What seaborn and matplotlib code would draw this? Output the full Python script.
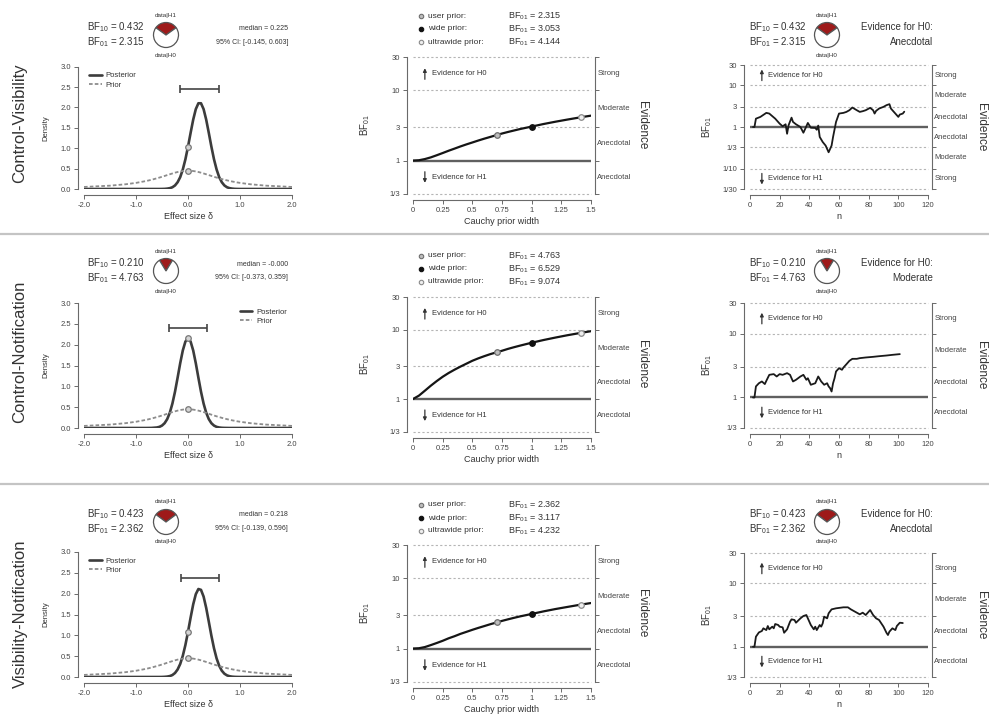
import matplotlib
matplotlib.use("Agg")
import matplotlib.pyplot as plt
from matplotlib.lines import Line2D
from matplotlib.ticker import NullLocator
from matplotlib.transforms import offset_copy, blended_transform_factory
import pandas as pd
import seaborn as sns

# ---------------- data ----------------
row_names = ["Control-Visibility", "Control-Notification", "Visibility-Notification"]
bf10 = ["0.432", "0.210", "0.423"]
bf01 = ["2.315", "4.763", "2.362"]
pie_h1 = [0.302, 0.174, 0.297]
post_median = ["0.225", "-0.000", "0.218"]
ci_text = ["[-0.145, 0.603]", "[-0.373, 0.359]", "[-0.139, 0.596]"]
ci_low = [-0.145, -0.373, -0.139]
ci_high = [0.603, 0.359, 0.596]
ci_height = [2.45, 2.39, 2.37]
evidence_cat = ["Anecdotal", "Moderate", "Anecdotal"]

# prior / posterior densities
delta = [-2.0, -1.5, -1.2, -1.0, -0.8, -0.7, -0.6, -0.55, -0.5, -0.45, -0.4, -0.35,
         -0.3, -0.25, -0.2, -0.15, -0.1, -0.05, 0.0, 0.05, 0.1, 0.15, 0.2, 0.25,
         0.3, 0.35, 0.4, 0.45, 0.5, 0.55, 0.6, 0.65, 0.7, 0.75, 0.8, 0.85, 0.9,
         0.95, 1.0, 1.2, 1.5, 2.0]
prior_dens = [0.050, 0.082, 0.116, 0.150, 0.197, 0.227, 0.262, 0.280, 0.300, 0.320,
              0.341, 0.361, 0.381, 0.400, 0.417, 0.431, 0.441, 0.448, 0.450, 0.448,
              0.441, 0.431, 0.417, 0.400, 0.381, 0.361, 0.341, 0.320, 0.300, 0.280,
              0.262, 0.244, 0.227, 0.212, 0.197, 0.184, 0.172, 0.160, 0.150, 0.116,
              0.082, 0.050]
post_dens_1 = [0, 0, 0, 0, 0, 0, 0.000, 0.000, 0.001, 0.003, 0.009, 0.020, 0.043,
               0.087, 0.166, 0.290, 0.478, 0.728, 1.037, 1.376, 1.701, 1.959, 2.103,
               2.103, 1.959, 1.701, 1.376, 1.037, 0.728, 0.478, 0.290, 0.166, 0.087,
               0.043, 0.020, 0.009, 0.003, 0.001, 0.000, 0, 0, 0]
post_dens_2 = [0, 0, 0, 0, 0, 0.002, 0.012, 0.027, 0.058, 0.115, 0.213, 0.366, 0.586,
               0.871, 1.206, 1.554, 1.861, 2.074, 2.150, 2.074, 1.861, 1.554, 1.206,
               0.871, 0.586, 0.366, 0.213, 0.115, 0.058, 0.027, 0.012, 0.005, 0.002,
               0.001, 0, 0, 0, 0, 0, 0, 0, 0]
post_dens_3 = [0, 0, 0, 0, 0, 0, 0.000, 0.000, 0.001, 0.004, 0.010, 0.022, 0.047,
               0.096, 0.180, 0.312, 0.508, 0.768, 1.083, 1.424, 1.743, 1.987, 2.112,
               2.091, 1.930, 1.658, 1.327, 0.990, 0.689, 0.446, 0.269, 0.151, 0.079,
               0.039, 0.018, 0.008, 0.003, 0.001, 0.000, 0, 0, 0]
post_at_0 = [1.04, 2.15, 1.08]
prior_at_0 = [0.45, 0.45, 0.45]

# robustness check
prior_width = [0, 0.05, 0.1, 0.15, 0.2, 0.25, 0.3, 0.35, 0.4, 0.45, 0.5, 0.55, 0.6,
               0.65, 0.707, 0.75, 0.8, 0.85, 0.9, 0.95, 1.0, 1.1, 1.2, 1.3, 1.414, 1.5]
robust_1 = [1.00, 1.01, 1.05, 1.11, 1.19, 1.28, 1.38, 1.48, 1.59, 1.70, 1.81, 1.93,
            2.05, 2.17, 2.315, 2.43, 2.556, 2.68, 2.81, 2.93, 3.053, 3.32, 3.58,
            3.84, 4.144, 4.37]
robust_2 = [1.00, 1.12, 1.32, 1.56, 1.82, 2.10, 2.38, 2.66, 2.95, 3.25, 3.58, 3.88,
            4.17, 4.46, 4.763, 5.00, 5.32, 5.62, 5.92, 6.22, 6.529, 7.15, 7.76, 8.38,
            9.074, 9.60]
robust_3 = [1.00, 1.01, 1.05, 1.12, 1.20, 1.29, 1.40, 1.50, 1.62, 1.73, 1.85, 1.97,
            2.09, 2.22, 2.362, 2.48, 2.61, 2.74, 2.87, 2.99, 3.117, 3.39, 3.66, 3.92,
            4.232, 4.46]
marked_width = [0.707, 1.0, 1.414]
marked_names = ["user prior:", "wide prior:", "ultrawide prior:"]
user_bf = [2.315, 4.763, 2.362]
wide_bf = [3.053, 6.529, 3.117]
ultra_bf = [4.144, 9.074, 4.232]
user_txt = ["2.315", "4.763", "2.362"]
wide_txt = ["3.053", "6.529", "3.117"]
ultra_txt = ["4.144", "9.074", "4.232"]

# sequential analysis
seq_n_1 = [2, 3, 4, 7, 11, 13, 17, 20, 22, 24, 25, 26, 28, 29, 31, 34, 36, 38, 39, 41,
           44, 45, 46, 47, 49, 51, 53, 55, 56, 58, 60, 63, 65, 67, 69, 72, 74, 76, 78,
           81, 83, 84, 85, 87, 90, 92, 94, 95, 97, 100, 101, 103, 104]
seq_bf_1 = [1.00, 1.00, 1.58, 1.74, 2.17, 2.09, 1.58, 1.20, 1.04, 1.16, 0.69, 1.10,
            1.67, 1.32, 1.16, 1.00, 0.73, 1.04, 1.25, 0.96, 0.95, 0.86, 1.08, 0.58,
            0.44, 0.36, 0.25, 0.36, 0.58, 1.32, 2.09, 2.17, 2.29, 2.51, 2.91, 2.51,
            2.29, 2.38, 2.51, 2.86, 2.51, 2.09, 2.42, 2.75, 3.02, 3.31, 3.50, 2.75,
            2.29, 1.74, 1.98, 2.09, 2.315]
seq_n_2 = [2, 3, 4, 6, 8, 10, 11, 13, 16, 18, 20, 22, 25, 27, 28, 29, 31, 34, 36, 38,
           39, 41, 44, 46, 48, 50, 52, 53, 54, 55, 56, 57, 58, 60, 62, 63, 65, 67, 69,
           72, 74, 78, 83, 87, 92, 96, 101]
seq_bf_2 = [1.00, 1.00, 1.49, 1.67, 1.78, 1.62, 1.82, 2.26, 2.32, 2.13, 2.32, 2.26,
            2.40, 2.26, 2.00, 1.78, 1.89, 2.13, 2.26, 1.89, 2.00, 1.58, 1.67, 2.13,
            1.78, 1.58, 1.67, 1.49, 1.40, 1.24, 1.67, 2.00, 2.55, 2.87, 2.71, 2.94,
            3.31, 3.74, 4.02, 4.02, 4.12, 4.22, 4.32, 4.42, 4.53, 4.64, 4.763]
seq_n_3 = [2, 3, 4, 6, 8, 9, 11, 12, 13, 15, 16, 17, 19, 20, 22, 23, 25, 27, 28, 30,
           31, 34, 36, 38, 39, 41, 43, 44, 45, 47, 48, 49, 50, 52, 53, 55, 58, 63, 66,
           68, 72, 74, 76, 78, 81, 83, 85, 87, 90, 92, 93, 94, 96, 98, 99, 101, 103]
seq_bf_3 = [1.00, 1.00, 1.44, 1.68, 1.77, 1.95, 1.83, 2.12, 1.88, 2.07, 1.95, 2.28,
            2.20, 2.07, 2.02, 1.66, 1.88, 2.48, 2.70, 2.64, 2.39, 2.80, 3.05, 3.16,
            2.80, 2.20, 1.88, 2.07, 1.83, 2.20, 2.07, 2.33, 2.98, 2.80, 3.36, 3.88,
            4.03, 4.18, 4.18, 3.88, 3.44, 3.24, 3.44, 3.16, 3.79, 3.16, 2.80, 2.64,
            2.07, 1.66, 1.53, 1.73, 1.95, 1.83, 2.12, 2.39, 2.362]

post_dens = [post_dens_1, post_dens_2, post_dens_3]
robust = [robust_1, robust_2, robust_3]
seq_n = [seq_n_1, seq_n_2, seq_n_3]
seq_bf = [seq_bf_1, seq_bf_2, seq_bf_3]

# ---------------- layout (pixels) ----------------
W, H = 989, 719
dens_y = [(66.7, 189), (303, 428), (552, 677)]
rob_y = [(57, 194), (297, 432), (545, 682)]
seq_y = [(65, 189), (303, 428), (553, 677)]
hdr_c = [35, 271, 522]
hdr2_y = [16, 256, 505]
label_y = [123, 352, 614]
legend_loc = ["upper left", "upper right", "upper left"]
seq_lo = [1 / 30, 1 / 3, 1 / 3]

TXT = "#333333"
AX = "#6a6a6a"
RED = "#9e1a1a"

sns.set_theme(style="ticks")
plt.rcParams["font.family"] = ["Liberation Sans", "DejaVu Sans"]
plt.rcParams["mathtext.fontset"] = "custom"
plt.rcParams["mathtext.rm"] = "Liberation Sans"
plt.rcParams["mathtext.it"] = "Liberation Sans:italic"
plt.rcParams["mathtext.default"] = "rm"
plt.rcParams["axes.unicode_minus"] = False

fig = plt.figure(figsize=(W / 100, H / 100), dpi=100)


def fx(x):
    return x / W


def fy(y):
    return 1 - y / H


def px_axes(x0, x1, y0, y1):
    return fig.add_axes([fx(x0), fy(y1), (x1 - x0) / W, (y1 - y0) / H])


def style(ax, right=False):
    ax.set_facecolor("none")
    ax.grid(False)
    ax.spines["top"].set_visible(False)
    ax.spines["right"].set_visible(right)
    for s in ["left", "bottom"]:
        ax.spines[s].set_position(("outward", 4.5))
    sides = ["left", "bottom"] + (["right"] if right else [])
    for s in sides:
        ax.spines[s].set_color(AX)
        ax.spines[s].set_linewidth(0.8)
    if right:
        ax.spines["right"].set_position(("outward", 3))
        ax.tick_params(axis="y", right=True, labelright=False)
    ax.tick_params(length=3, width=0.7, color=AX, labelsize=5.5, labelcolor="#444444", pad=2)


def pie(cx, cy, p):
    r = 12.5 * 1.25
    pax = px_axes(cx - r, cx + r, cy - r, cy + r)
    pax.pie([p, 1 - p], colors=[RED, "white"], startangle=90 - 180 * p,
            wedgeprops=dict(edgecolor="#555555", linewidth=0.9))
    pax.set_aspect("equal")
    fig.text(fx(cx), fy(cy - 20), "data|H1", fontsize=4.5, color=TXT, ha="center", va="center")
    fig.text(fx(cx), fy(cy + 20), "data|H0", fontsize=4.5, color=TXT, ha="center", va="center")


def evidence_decor(ax, ticks, labels, bands, xarrow, xtext, h1_y, h1_tip):
    ax.set_yscale("log")
    ax.set_yticks(ticks)
    ax.set_yticklabels(labels)
    ax.yaxis.set_minor_locator(NullLocator())
    for t in ticks:
        if t != 1:
            ax.axhline(t, color="#b5b5b5", lw=0.8, ls=(0, (2, 2)), clip_on=False, zorder=0)
    ax.axhline(1, color="#606060", lw=1.7, zorder=1)
    tr = blended_transform_factory(ax.transAxes, ax.transData)
    for lab, yv in bands:
        ax.text(1.035, yv, lab, transform=tr, fontsize=5.5, color="#444444", va="center", ha="left")
    ax.text(xtext, 17.3, "Evidence for H0", fontsize=5.5, color=TXT, va="center")
    ax.text(xtext, h1_y, "Evidence for H1", fontsize=5.5, color=TXT, va="center")
    up = offset_copy(ax.transData, fig=fig, x=0, y=6, units="points")
    ax.annotate("", xy=(xarrow, 17.3), xycoords=up, xytext=(0, -12), textcoords="offset points",
                arrowprops=dict(arrowstyle="-|>", color="#333333", lw=0.9, mutation_scale=5))
    dn = offset_copy(ax.transData, fig=fig, x=0, y=-6, units="points")
    ax.annotate("", xy=(xarrow, h1_y), xycoords=dn, xytext=(0, 12), textcoords="offset points",
                arrowprops=dict(arrowstyle="-|>", color="#333333", lw=0.9, mutation_scale=5))


for i in range(3):
    # ---------- prior and posterior ----------
    y0, y1 = dens_y[i]
    ax = px_axes(84, 292, y0, y1)
    df = pd.DataFrame({"delta": delta, "Posterior": post_dens[i], "Prior": prior_dens})
    sns.lineplot(data=df, x="delta", y="Posterior", ax=ax, color="#3c3c3c", lw=1.9,
                 label="Posterior")
    sns.lineplot(data=df, x="delta", y="Prior", ax=ax, color="#8c8c8c", lw=1.3,
                 linestyle=(0, (2, 1.2)), label="Prior")
    ax.errorbar(x=(ci_low[i] + ci_high[i]) / 2, y=ci_height[i], xerr=(ci_high[i] - ci_low[i]) / 2,
                fmt="none", ecolor="#444444", elinewidth=1.2, capsize=3.2, capthick=1.2)
    sns.scatterplot(x=[0, 0], y=[post_at_0[i], prior_at_0[i]], ax=ax, s=16, color="#d4d4d4",
                    edgecolor="#777777", linewidth=0.9, zorder=5)
    ax.set_xlim(-2, 2)
    ax.set_ylim(0, 3)
    ax.set_xticks([-2, -1, 0, 1, 2])
    ax.set_xticklabels(["-2.0", "-1.0", "0.0", "1.0", "2.0"])
    ax.set_yticks([0, 0.5, 1, 1.5, 2, 2.5, 3])
    ax.set_yticklabels(["0.0", "0.5", "1.0", "1.5", "2.0", "2.5", "3.0"])
    style(ax)
    ax.set_xlabel("Effect size \u03b4", fontsize=6.5, color=TXT, labelpad=2)
    ax.set_ylabel("Density", fontsize=5.5, color=TXT)
    ax.yaxis.set_label_coords(-0.165, 0.5)
    ax.legend(loc=legend_loc[i], frameon=False, fontsize=5.5, handlelength=1.6,
              labelspacing=0.25, borderaxespad=0.3, handletextpad=0.5, labelcolor=TXT)

    hc = hdr_c[i]
    fig.text(fx(87), fy(hc - 8), r"BF$_{10}$ = " + bf10[i], fontsize=7, color=TXT, va="center")
    fig.text(fx(87), fy(hc + 7), r"BF$_{01}$ = " + bf01[i], fontsize=7, color=TXT, va="center")
    pie(166, hc, pie_h1[i])
    fig.text(fx(288), fy(hc - 7), "median = " + post_median[i], fontsize=5, color=TXT,
             ha="right", va="center")
    fig.text(fx(288), fy(hc + 7), "95% CI: " + ci_text[i], fontsize=5, color=TXT,
             ha="right", va="center")

    fig.text(fx(20), fy(label_y[i]), row_names[i], rotation=90, fontsize=12, color=TXT,
             ha="center", va="center")

    # ---------- robustness check ----------
    y0, y1 = rob_y[i]
    ax = px_axes(413, 591, y0, y1)
    sns.lineplot(x=prior_width, y=robust[i], ax=ax, color="#151515", lw=1.6, zorder=3)
    marks = [user_bf[i], wide_bf[i], ultra_bf[i]]
    fills = ["#bdbdbd", "#111111", "#eeeeee"]
    edges = ["#6e6e6e", "#111111", "#8a8a8a"]
    for k in range(3):
        sns.scatterplot(x=[marked_width[k]], y=[marks[k]], ax=ax, s=16, color=fills[k],
                        edgecolor=edges[k], linewidth=0.9, zorder=5)
    ax.set_xlim(0, 1.5)
    ax.set_ylim(1 / 3, 30)
    evidence_decor(ax, [30, 10, 3, 1, 1 / 3], ["30", "10", "3", "1", "1/3"],
                   [("Strong", 17.3), ("Moderate", 5.48), ("Anecdotal", 1.73), ("Anecdotal", 0.577)],
                   0.10, 0.16, 0.577, None)
    ax.set_xticks([0, 0.25, 0.5, 0.75, 1, 1.25, 1.5])
    ax.set_xticklabels(["0", "0.25", "0.5", "0.75", "1", "1.25", "1.5"])
    style(ax, right=True)
    ax.set_xlabel("Cauchy prior width", fontsize=6.5, color=TXT, labelpad=2)
    ax.set_ylabel(r"BF$_{01}$", fontsize=7, color=TXT)
    ax.yaxis.set_label_coords(-0.23, 0.5)
    fig.text(fx(642), fy((y0 + y1) / 2), "Evidence", rotation=-90, fontsize=8.5, color=TXT,
             ha="center", va="center")

    texts = [user_txt[i], wide_txt[i], ultra_txt[i]]
    for k in range(3):
        yy = hdr2_y[i] + 13 * k
        fig.add_artist(Line2D([fx(421)], [fy(yy)], marker="o", ms=3.2, mfc=fills[k], mec=edges[k],
                              mew=0.8, transform=fig.transFigure))
        fig.text(fx(428), fy(yy), marked_names[k], fontsize=6, color=TXT, va="center")
        fig.text(fx(508), fy(yy), r"BF$_{01}$ = " + texts[k], fontsize=6.5, color=TXT, va="center")

    # ---------- sequential analysis ----------
    y0, y1 = seq_y[i]
    ax = px_axes(750, 928, y0, y1)
    sns.lineplot(x=seq_n[i], y=seq_bf[i], ax=ax, color="#1a1a1a", lw=1.3, zorder=3)
    ax.set_xlim(0, 120)
    ax.set_ylim(seq_lo[i], 30)
    if i == 0:
        evidence_decor(ax, [30, 10, 3, 1, 1 / 3, 1 / 10, 1 / 30],
                       ["30", "10", "3", "1", "1/3", "1/10", "1/30"],
                       [("Strong", 17.3), ("Moderate", 5.48), ("Anecdotal", 1.73),
                        ("Anecdotal", 0.577), ("Moderate", 0.183), ("Strong", 0.0577)],
                       8, 12, 0.0577, None)
    else:
        evidence_decor(ax, [30, 10, 3, 1, 1 / 3], ["30", "10", "3", "1", "1/3"],
                       [("Strong", 17.3), ("Moderate", 5.48), ("Anecdotal", 1.73), ("Anecdotal", 0.577)],
                       8, 12, 0.577, None)
    ax.set_xticks([0, 20, 40, 60, 80, 100, 120])
    style(ax, right=True)
    ax.set_xlabel("n", fontsize=6.5, color=TXT, labelpad=2)
    ax.set_ylabel(r"BF$_{01}$", fontsize=7, color=TXT)
    ax.yaxis.set_label_coords(-0.205, 0.5)
    fig.text(fx(981), fy((y0 + y1) / 2), "Evidence", rotation=-90, fontsize=8.5, color=TXT,
             ha="center", va="center")

    fig.text(fx(749), fy(hc - 8), r"BF$_{10}$ = " + bf10[i], fontsize=7, color=TXT, va="center")
    fig.text(fx(749), fy(hc + 7), r"BF$_{01}$ = " + bf01[i], fontsize=7, color=TXT, va="center")
    pie(827, hc, pie_h1[i])
    fig.text(fx(933), fy(hc - 8), "Evidence for H0:", fontsize=7, color=TXT, ha="right", va="center")
    fig.text(fx(933), fy(hc + 7), evidence_cat[i], fontsize=7, color=TXT, ha="right", va="center")

# separators between the rows
for ys in [234, 484]:
    fig.add_artist(Line2D([0, 1], [fy(ys), fy(ys)], color="#c4c4c4", lw=1.6,
                          transform=fig.transFigure))

fig.savefig("out.png", dpi=100, facecolor="white")
